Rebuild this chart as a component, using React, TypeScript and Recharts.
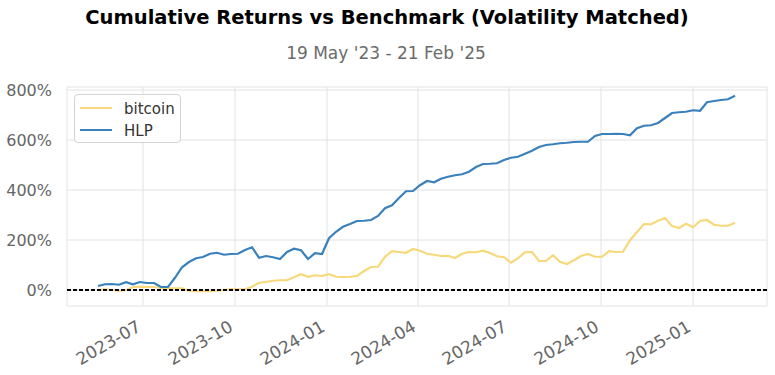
import React from "react";
import {
  LineChart,
  Line,
  XAxis,
  YAxis,
  CartesianGrid,
  ReferenceLine,
  Legend,
} from "recharts";

// weekly observations
const dates = [
  "2023-05-17", "2023-05-24", "2023-05-31",
  "2023-06-07", "2023-06-14", "2023-06-21", "2023-06-28",
  "2023-07-05", "2023-07-12", "2023-07-19", "2023-07-26",
  "2023-08-02", "2023-08-09", "2023-08-16", "2023-08-23", "2023-08-30",
  "2023-09-06", "2023-09-13", "2023-09-20", "2023-09-27",
  "2023-10-04", "2023-10-11", "2023-10-18", "2023-10-25",
  "2023-11-01", "2023-11-08", "2023-11-15", "2023-11-22", "2023-11-29",
  "2023-12-06", "2023-12-13", "2023-12-20", "2023-12-27",
  "2024-01-03", "2024-01-10", "2024-01-17", "2024-01-24", "2024-01-31",
  "2024-02-07", "2024-02-14", "2024-02-21", "2024-02-28",
  "2024-03-06", "2024-03-13", "2024-03-20", "2024-03-27",
  "2024-04-03", "2024-04-10", "2024-04-17", "2024-04-24",
  "2024-05-01", "2024-05-08", "2024-05-15", "2024-05-22", "2024-05-29",
  "2024-06-05", "2024-06-12", "2024-06-19", "2024-06-26",
  "2024-07-03", "2024-07-10", "2024-07-17", "2024-07-24", "2024-07-31",
  "2024-08-07", "2024-08-14", "2024-08-21", "2024-08-28",
  "2024-09-04", "2024-09-11", "2024-09-18", "2024-09-25",
  "2024-10-02", "2024-10-09", "2024-10-16", "2024-10-23", "2024-10-30",
  "2024-11-06", "2024-11-13", "2024-11-20", "2024-11-27",
  "2024-12-04", "2024-12-11", "2024-12-18", "2024-12-25",
  "2025-01-01", "2025-01-08", "2025-01-15", "2025-01-22", "2025-01-29",
  "2025-02-05", "2025-02-12",
];

// cumulative return, %
const hlp = [
  16, 23, 24, 21, 31, 23, 32, 28, 28, 12,
  12, 49, 91, 112, 127, 132, 145, 149, 141, 144,
  145, 160, 171, 129, 136, 131, 124, 152, 165, 159,
  124, 147, 144, 207, 233, 253, 264, 276, 277, 280,
  296, 327, 339, 368, 395, 396, 419, 436, 431, 445,
  453, 459, 463, 473, 492, 504, 505, 507, 520, 529,
  533, 545, 557, 572, 580, 583, 587, 589, 592, 593,
  593, 616, 624, 624, 625, 624, 619, 647, 657, 659,
  668, 688, 708, 711, 713, 719, 717, 751, 756, 760,
  763, 777,
];

const bitcoin = [
  0, 3, 0, -4, 0, 12, 13, 12, 12, 8,
  7, 7, 7, -3, -5, -5, -5, -3, 0, 4,
  3, 3, 13, 29, 32, 37, 39, 39, 51, 63,
  53, 59, 56, 63, 53, 52, 53, 56, 76, 92,
  93, 133, 155, 152, 149, 164, 157, 145, 141, 136,
  137, 128, 145, 152, 151, 157, 148, 135, 131, 109,
  127, 151, 152, 116, 116, 139, 113, 104, 119, 136,
  144, 133, 133, 155, 152, 153, 199, 232, 264, 263,
  277, 288, 256, 248, 265, 251, 276, 280, 261, 257,
  257, 269,
];

const xTicks = [
  "2023-07-01", "2023-10-01", "2024-01-01", "2024-04-01",
  "2024-07-01", "2024-10-01", "2025-01-01",
];
const yTicks = [0, 200, 400, 600, 800];

const data = dates.map((d, i) => ({
  t: Date.parse(d),
  bitcoin: bitcoin[i],
  hlp: hlp[i],
}));

const FONT = "'DejaVu Sans', sans-serif";
const BTC_COLOR = "#f7d87a";
const HLP_COLOR = "#3a81bc";

const DateTick = (props: any) => {
  const { x, y, payload } = props;
  const d = new Date(payload.value);
  const label = `${d.getUTCFullYear()}-${String(d.getUTCMonth() + 1).padStart(2, "0")}`;
  const ax = x - 1;
  const ay = y + 22;
  return (
    <text
      x={ax}
      y={ay}
      transform={`rotate(-30 ${ax} ${ay})`}
      textAnchor="end"
      fill="#666"
      fontSize={17}
      fontFamily={FONT}
    >
      {label}
    </text>
  );
};

const LegendBox = () => (
  <div
    style={{
      width: 107,
      height: 49,
      border: "1px solid #d4d4d4",
      borderRadius: 4,
      background: "rgba(255,255,255,0.85)",
      fontFamily: FONT,
      fontSize: 15,
      color: "#333",
      boxSizing: "border-box",
      position: "relative",
    }}
  >
    {[
      { name: "bitcoin", color: BTC_COLOR, top: 12 },
      { name: "HLP", color: HLP_COLOR, top: 34 },
    ].map((it) => (
      <div key={it.name}>
        <div
          style={{
            position: "absolute",
            left: 5,
            top: it.top,
            width: 32,
            height: 2,
            background: it.color,
          }}
        />
        <div
          style={{
            position: "absolute",
            left: 49,
            top: it.top - 7,
            lineHeight: "18px",
          }}
        >
          {it.name}
        </div>
      </div>
    ))}
  </div>
);

export default function App() {
  return (
    <div style={{ position: "absolute", left: 0, top: 0, width: 775, height: 375, background: "#fff" }}>
      <svg width={775} height={70} style={{ position: "absolute", left: 0, top: 0 }}>
        <text x={387} y={24} textAnchor="middle" fontFamily={FONT} fontWeight="bold" fontSize={19.5} fill="#000">
          Cumulative Returns vs Benchmark (Volatility Matched)
        </text>
        <text x={386} y={59} textAnchor="middle" fontFamily={FONT} fontSize={17} fill="#6b6b6b">
          19 May '23 - 21 Feb '25
        </text>
      </svg>
      <div style={{ position: "absolute", left: 0, top: 0 }}>
        <LineChart
          width={775}
          height={375}
          data={data}
          margin={{ top: 87, right: 8, bottom: 0, left: 7 }}
        >
          <CartesianGrid stroke="#e2e2e2" strokeWidth={1} />
          <XAxis
            dataKey="t"
            type="number"
            domain={[Date.parse("2023-04-16"), Date.parse("2025-03-16")]}
            ticks={xTicks.map((d) => Date.parse(d))}
            interval={0}
            tick={<DateTick />}
            tickLine={false}
            axisLine={false}
            tickSize={0}
            height={69}
            allowDataOverflow
          />
          <YAxis
            type="number"
            domain={[-64, 812]}
            ticks={yTicks}
            interval={0}
            tickFormatter={(v: number) => `${v}%`}
            tick={{ fontSize: 16, fill: "#666", fontFamily: FONT }}
            tickLine={false}
            axisLine={false}
            tickSize={0}
            tickMargin={15}
            width={60}
            allowDataOverflow
          />
          <Legend
            layout="horizontal"
            verticalAlign="middle"
            align="center"
            content={<LegendBox />}
            wrapperStyle={{ left: 74, top: 94, width: 107 }}
          />
          <Line
            type="linear"
            dataKey="bitcoin"
            name="bitcoin"
            stroke={BTC_COLOR}
            strokeWidth={2.2}
            dot={false}
            isAnimationActive={false}
          />
          <Line
            type="linear"
            dataKey="hlp"
            name="HLP"
            stroke={HLP_COLOR}
            strokeWidth={2.2}
            dot={false}
            isAnimationActive={false}
          />
          <ReferenceLine y={0} stroke="#000" strokeWidth={1.8} strokeDasharray="4 2" />
        </LineChart>
      </div>
    </div>
  );
}
